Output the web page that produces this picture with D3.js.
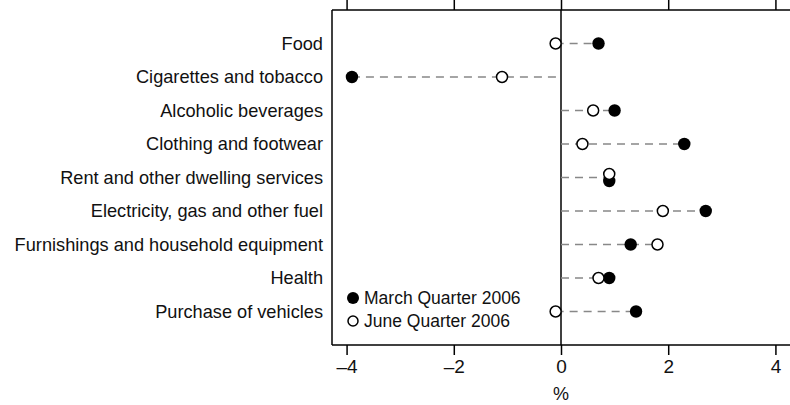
<!DOCTYPE html>
<html>
<head>
<meta charset="UTF-8">
<title>Price change by group</title>
<script src="https://cdn.jsdelivr.net/npm/d3@7"></script>
<style type="text/css">
body, html {
    margin: 0;
    background: #fff;
}
text {
    font-family: "Liberation Sans", Arial, sans-serif;
    fill: #111;
}
.axis path, .axis line {
    stroke: #000;
    stroke-width: 1.5;
}
</style>
</head>
<body>
<div class="dotChart"></div>
<script type="text/javascript">
var categories = ["Food", "Cigarettes and tobacco", "Alcoholic beverages",
    "Clothing and footwear", "Rent and other dwelling services",
    "Electricity, gas and other fuel", "Furnishings and household equipment",
    "Health", "Purchase of vehicles"];
var march = [0.7, -3.9, 1.0, 2.3, 0.9, 2.7, 1.3, 0.9, 1.4];
var june  = [-0.1, -1.1, 0.6, 0.4, 0.9, 1.9, 1.8, 0.7, -0.1];
var seriesNames = ["March Quarter 2006", "June Quarter 2006"];
var xTicks = [-4, -2, 0, 2, 4];

var W = 790, H = 405;
var margin = {top: 10, right: 0, bottom: 60, left: 332};
var width = W - margin.left - margin.right,
    height = H - margin.top - margin.bottom;

var x = d3.scaleLinear().domain([-4.272, 4.272]).range([0, width]);
var y = d3.scalePoint().domain(categories).range([0, height]).padding(1);

var svg = d3.select(".dotChart").append("svg")
    .attr("width", W).attr("height", H)
    .append("g")
    .attr("transform", "translate(" + margin.left + "," + margin.top + ")");

var fmt = function (d) { return d < 0 ? "\u2013" + Math.abs(d) : d; };

// frame
svg.append("line").attr("x1", 0).attr("x2", 0).attr("y1", 0).attr("y2", height)
    .attr("stroke", "#000").attr("stroke-width", 1.5);

svg.append("g")
    .attr("class", "axis")
    .call(d3.axisTop(x).tickValues(xTicks).tickSize(10).tickFormat(""))
    .select(".domain").attr("d", "M0,0H" + width);

var bottom = svg.append("g")
    .attr("class", "axis")
    .attr("transform", "translate(0," + height + ")")
    .call(d3.axisBottom(x).tickValues(xTicks).tickSize(10).tickPadding(5).tickFormat(fmt));
bottom.select(".domain").attr("d", "M0,0H" + width);
bottom.selectAll("text").style("font-size", "19px").attr("font-family", null);

svg.append("text")
    .attr("x", x(0)).attr("y", height + 55)
    .attr("text-anchor", "middle")
    .style("font-size", "18px")
    .text("%");

// zero line
svg.append("line")
    .attr("x1", x(0)).attr("x2", x(0)).attr("y1", 0).attr("y2", height)
    .attr("stroke", "#000").attr("stroke-width", 1.5);

// category labels
svg.selectAll(".cat").data(categories).enter().append("text")
    .attr("class", "cat")
    .attr("x", -9)
    .attr("y", function (d) { return y(d); })
    .attr("dy", "0.35em")
    .attr("text-anchor", "end")
    .style("font-size", "18.2px")
    .text(function (d) { return d; });

var rows = categories.map(function (c, i) {
    return {cat: c, m: march[i], j: june[i]};
});

// dashed connectors
svg.selectAll(".conn").data(rows).enter().append("line")
    .attr("class", "conn")
    .attr("x1", function (d) { return x(Math.min(0, d.m, d.j)); })
    .attr("x2", function (d) { return x(Math.max(0, d.m, d.j)); })
    .attr("y1", function (d) { return y(d.cat); })
    .attr("y2", function (d) { return y(d.cat); })
    .attr("stroke", "#888")
    .attr("stroke-width", 1.5)
    .attr("stroke-dasharray", "8,6");

// overlapping points get nudged apart vertically
function nudge(d) { return Math.abs(d.m - d.j) < 0.05 ? 3.5 : 0; }

svg.selectAll(".marchDot").data(rows).enter().append("circle")
    .attr("class", "marchDot")
    .attr("cx", function (d) { return x(d.m); })
    .attr("cy", function (d) { return y(d.cat) + nudge(d); })
    .attr("r", 6.2)
    .attr("fill", "#000");

svg.selectAll(".juneDot").data(rows).enter().append("circle")
    .attr("class", "juneDot")
    .attr("cx", function (d) { return x(d.j); })
    .attr("cy", function (d) { return y(d.cat) - nudge(d); })
    .attr("r", 5.5)
    .attr("fill", "#fff")
    .attr("stroke", "#000")
    .attr("stroke-width", 1.5);

// legend
var legend = svg.append("g").attr("transform", "translate(21," + (height - 47) + ")");
seriesNames.forEach(function (name, i) {
    var g = legend.append("g").attr("transform", "translate(0," + (i * 23) + ")");
    g.append("circle")
        .attr("r", i === 0 ? 6 : 5)
        .attr("fill", i === 0 ? "#000" : "#fff")
        .attr("stroke", "#000")
        .attr("stroke-width", i === 0 ? 0 : 1.5);
    g.append("text")
        .attr("x", 11).attr("dy", "0.35em")
        .style("font-size", "17.5px")
        .text(name);
});
</script>
</body>
</html>
